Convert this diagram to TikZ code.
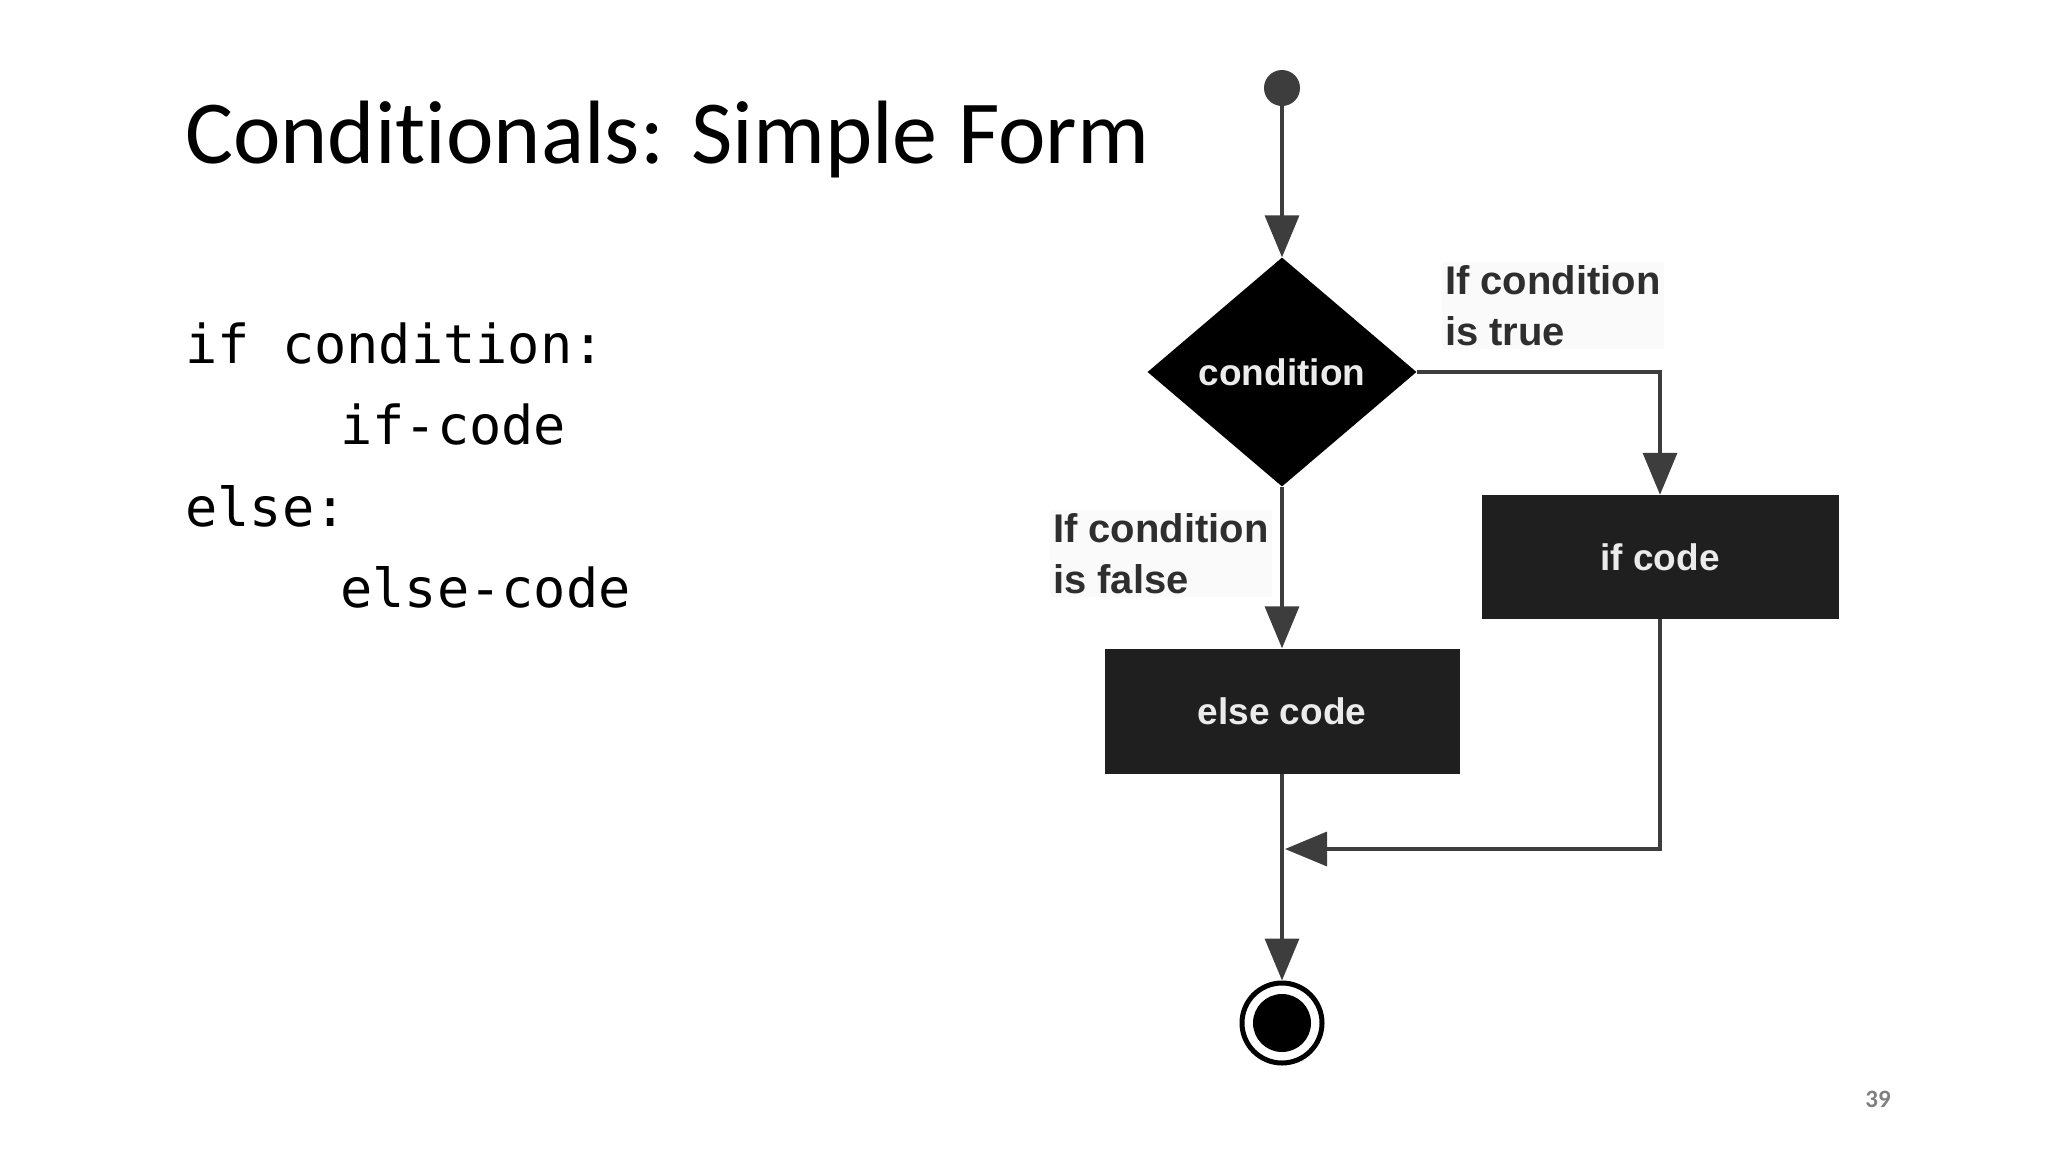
\documentclass[tikz,border=0pt]{standalone}
\usepackage{fontspec}
\setmainfont{Carlito}[Ligatures=NoCommon]
\newfontfamily\codefont{DejaVu Sans Mono}
\newfontfamily\lblfont{Liberation Sans}
\usetikzlibrary{shapes.geometric,arrows.meta}
\definecolor{linec}{HTML}{3D3D3D}
\definecolor{boxc}{HTML}{1F1F1F}
\definecolor{lblc}{HTML}{2E2E2E}
\tikzset{
  conn/.style={draw=linec, line width=3.5pt},
  arr/.style={conn, -{Triangle[length=42pt,width=34pt]}},
  blk/.style={rectangle, fill=boxc, inner sep=0pt, text=white!92!black,
    font=\lblfont\bfseries\fontsize{37}{44}\selectfont},
  lbl/.style={align=left, inner sep=3pt, fill=black!2, text=lblc,
    font=\lblfont\bfseries\fontsize{40}{51}\selectfont},
  codeline/.style={anchor=base west, inner sep=0pt,
    font=\codefont\fontsize{53.6}{60}\selectfont},
}
\begin{document}
\begin{tikzpicture}[x=1pt,y=-1pt]
\useasboundingbox (0,0) rectangle (2048,1152);
% title
\node[anchor=base west, inner sep=0pt, font=\fontsize{90}{100}\selectfont] (title) at (185,163) {Conditionals: Simple Form};
% code
\node[codeline] (c1) at (185,363) {if condition:};
\node[codeline] (c2) at (340,444) {if-code};
\node[codeline] (c3) at (185,526) {else:};
\node[codeline] (c4) at (340,607) {else-code};
% flowchart
\node[circle, fill=linec, minimum size=36pt, inner sep=0pt] (start) at (1282,88) {};
\node[diamond, fill=black, minimum width=269pt, minimum height=229pt, inner sep=0pt,
      text=white!92!black, font=\lblfont\bfseries\fontsize{37}{44}\selectfont] (cond) at (1282,372) {condition};
\node[blk, minimum width=357pt, minimum height=124pt] (ifbox) at (1660,557) {if code};
\node[blk, minimum width=355pt, minimum height=125pt] (elsebox) at (1282,711) {else code};
\node[circle, draw=black, line width=5pt, fill=white, minimum size=80pt, inner sep=0pt] (end) at (1282,1023) {};
\node[circle, fill=black, minimum size=58pt, inner sep=0pt] (endcore) at (end.center) {};
\coordinate (join) at (1285,849);
% labels
\node[lbl, anchor=north west] (ltrue) at (1442,262) {If condition\\is true};
\node[lbl, anchor=north west] (lfalse) at (1050,510) {If condition\\is false};
% connectors
\draw[arr] (start) -- (cond.north);
\draw[arr] (cond.east) -| (ifbox.north);
\draw[arr] (cond.south) -- (elsebox.north);
\draw[arr] (elsebox.south) -- (end.north);
\draw[arr] (ifbox.south) |- (join);
% page number
\node[text=black!50, font=\bfseries\fontsize{25}{30}\selectfont] (pnum) at (1878,1099) {39};
\end{tikzpicture}
\end{document}
